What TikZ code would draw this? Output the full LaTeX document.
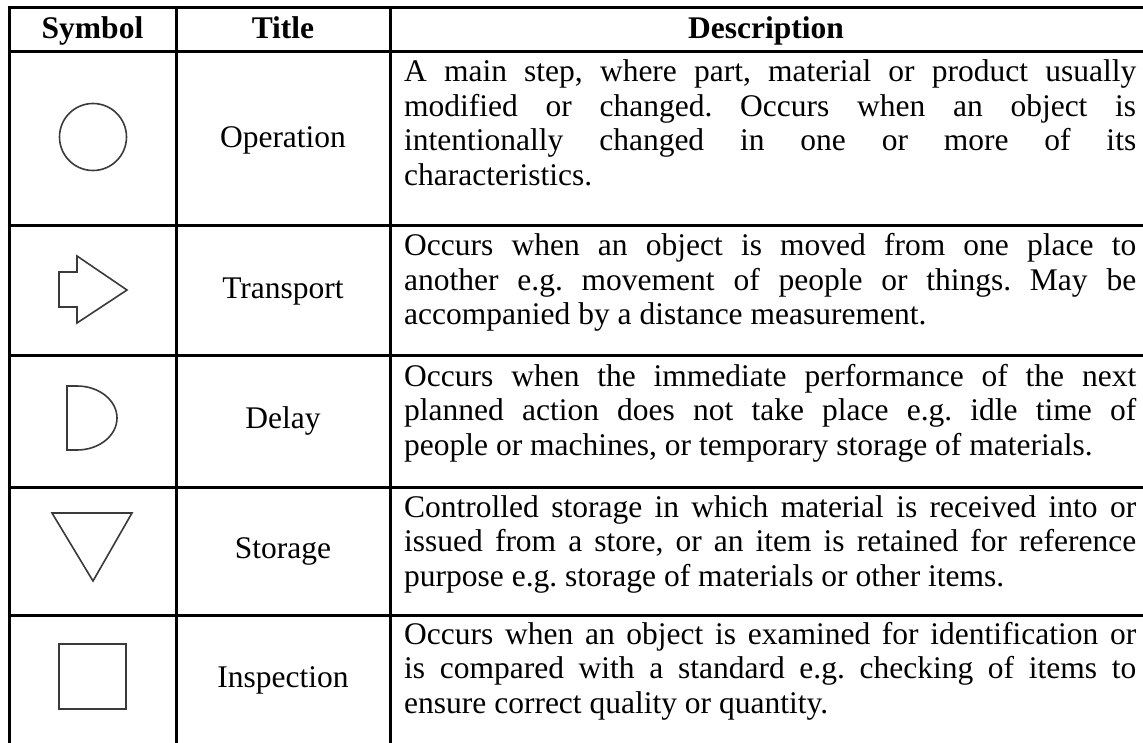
\documentclass[tikz,border=0pt]{standalone}
\usepackage{fontspec}
\setmainfont{Liberation Serif}
\definecolor{symgray}{HTML}{3A3A3A}
\newcommand{\tabfont}{\fontsize{31.5}{34.5}\selectfont}
\newcommand{\desc}[1]{\parbox[t]{732pt}{\tabfont\frenchspacing\hyphenpenalty=10000\exhyphenpenalty=10000 #1}}
\begin{document}
\begin{tikzpicture}[x=1pt,y=-1pt,
  rule/.style={line width=3pt,black},
  sym/.style={line width=1.6pt,draw=symgray,line join=miter},
  hdr/.style={font=\bfseries\tabfont,anchor=base,inner sep=0pt},
  ttl/.style={font=\tabfont,anchor=base,inner sep=0pt},
  dsc/.style={anchor=base west,inner sep=0pt}]
\useasboundingbox (0,0) rectangle (1143,743);
\fill[white] (0,0) rectangle (1143,743);
% table rules
\foreach \yy in {7.5,51.5,226,355.5,487,615.5}
  \draw[rule] (7.5,\yy) -- (1143,\yy);
\foreach \xx in {9,176.5,390}
  \draw[rule] (\xx,6) -- (\xx,743);
% header
\node[hdr] (hsym) at (92.5,39) {Symbol};
\node[hdr] (httl) at (283,39) {Title};
\node[hdr] (hdsc) at (766,39) {Description};
% symbols
\draw[sym] (93,137) circle (33.5);
\draw[sym] (59,272) -- (77,272) -- (77,256) -- (127,290) -- (77,323) -- (77,307) -- (59,307) -- cycle;
\draw[sym] (67,386) -- (77,386) arc[start angle=-90,end angle=90,x radius=40,y radius=32] -- (67,450) -- cycle;
\draw[sym] (52,513) -- (132,513) -- (93,581) -- cycle;
\draw[sym] (59,644) rectangle (126,709);
% titles
\node[ttl] (top) at (283,148) {Operation};
\node[ttl] (ttr) at (283,299) {Transport};
\node[ttl] (tde) at (283,428) {Delay};
\node[ttl] (tst) at (283,558) {Storage};
\node[ttl] (tin) at (283,687) {Inspection};
% descriptions
\node[dsc] (dop) at (404,82) {\desc{A main step, where part, material or product usually\linebreak
modified or changed. Occurs when an object is\linebreak
intentionally changed in one or more of its\linebreak
characteristics.}};
\node[dsc] (dtr) at (404,256) {\desc{Occurs when an object is moved from one place to\linebreak
another e.g. movement of people or things. May be\linebreak
accompanied by a distance measurement.}};
\node[dsc] (dde) at (404,386) {\desc{Occurs when the immediate performance of the next\linebreak
planned action does not take place e.g. idle time of\linebreak
people or machines, or temporary storage of materials.}};
\node[dsc] (dst) at (404,517) {\desc{Controlled storage in which material is received into or\linebreak
issued from a store, or an item is retained for reference\linebreak
purpose e.g. storage of materials or other items.}};
\node[dsc] (din) at (404,644) {\desc{Occurs when an object is examined for identification or\linebreak
is compared with a standard e.g. checking of items to\linebreak
ensure correct quality or quantity.}};
\end{tikzpicture}
\end{document}
